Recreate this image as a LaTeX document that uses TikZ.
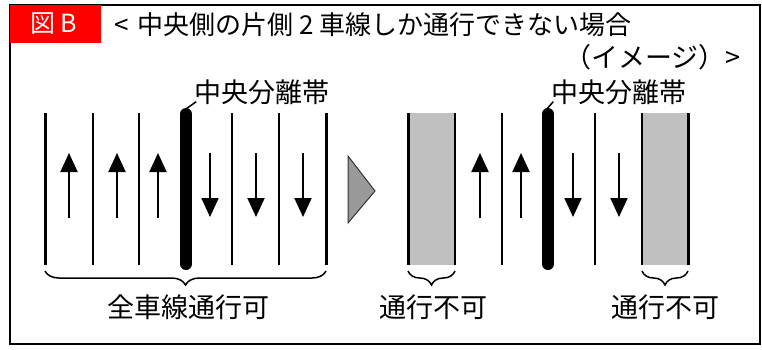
\documentclass[tikz,border=0pt]{standalone}
\usepackage{fontspec}
\setmainfont{Noto Sans CJK JP}
\usetikzlibrary{arrows.meta,decorations.pathreplacing}
\definecolor{lanegray}{HTML}{C0C0C0}
\definecolor{trigray}{HTML}{999999}
\tikzset{
  txt/.style={inner sep=0pt, font=\fontsize{27}{32}\selectfont},
  titletxt/.style={inner sep=0pt, font=\fontsize{26}{31}\selectfont},
  outerline/.style={line width=3pt},
  innerline/.style={line width=1.5pt},
  median/.style={line width=12pt, line cap=round},
  lanearrow/.style={line width=2pt, -{Triangle[width=17pt,length=19pt]}},
  bracedeco/.style={line width=1.5pt, decorate, decoration={brace, mirror, amplitude=14pt}},
  leader/.style={line width=1.5pt},
}
\begin{document}
\begin{tikzpicture}[x=1pt,y=-1pt]
\useasboundingbox (0,0) rectangle (762,349);
% frame
\draw[line width=2pt] (10,5) rectangle (760,344);
\fill[red] (10,5) rectangle (101,43);
\node[inner sep=0pt, font=\fontsize{25}{29}\selectfont, text=white] (fig) at (54,24) {図\hspace{5pt}B};
\node[titletxt, anchor=west] (title) at (114,25) {<\hspace{9pt}中央側の片側 2 車線しか通行できない場合};
\node[txt, anchor=east] (title2) at (741,57) {（イメージ）>};

% ---------- left: all lanes ----------
\foreach \x in {45,326} \draw[outerline] (\x,113) -- (\x,265);
\foreach \x in {93,139,232,279} \draw[innerline] (\x,113) -- (\x,265);
\draw[median] (186,114) -- (186,264);
\foreach \x in {69,117,158} \draw[lanearrow] (\x,218) -- (\x,153);
\foreach \x in {210,256,303} \draw[lanearrow] (\x,153) -- (\x,217);
\node[txt] (medL) at (262,92) {中央分離帯};
\coordinate (medLtop) at (183,111);
\draw[leader] (medLtop) -- ([shift={(2pt,3pt)}]medL.south west);
\coordinate (bL1) at (45,271);
\coordinate (bL2) at (326,271);
\draw[bracedeco] (bL1) -- (bL2);
\node[txt] (allok) at (188,307) {全車線通行可};

% arrow triangle
\filldraw[fill=trigray, draw=black!80, line width=1pt] (348,156) -- (375,191) -- (348,223) -- cycle;

% ---------- right: two lanes ----------
\fill[lanegray] (408,113) rectangle (455,265);
\fill[lanegray] (642,113) rectangle (688,265);
\draw[outerline] (408,113) -- (408,265);
\draw[outerline] (688,113) -- (688,265);
\foreach \x in {455,502,595,642} \draw[innerline] (\x,113) -- (\x,265);
\draw[median] (548,114) -- (548,264);
\foreach \x in {480,521} \draw[lanearrow] (\x,218) -- (\x,153);
\foreach \x in {573,619} \draw[lanearrow] (\x,153) -- (\x,217);
\node[txt] (medR) at (619,92) {中央分離帯};
\coordinate (medRtop) at (545,111);
\draw[leader] (medRtop) -- ([shift={(2pt,3pt)}]medR.south west);
\coordinate (bR1) at (408,271);
\coordinate (bR2) at (455,271);
\draw[bracedeco] (bR1) -- (bR2);
\node[txt] (ngL) at (433,307) {通行不可};
\coordinate (bR3) at (642,271);
\coordinate (bR4) at (688,271);
\draw[bracedeco] (bR3) -- (bR4);
\node[txt] (ngR) at (665,307) {通行不可};
\end{tikzpicture}
\end{document}
